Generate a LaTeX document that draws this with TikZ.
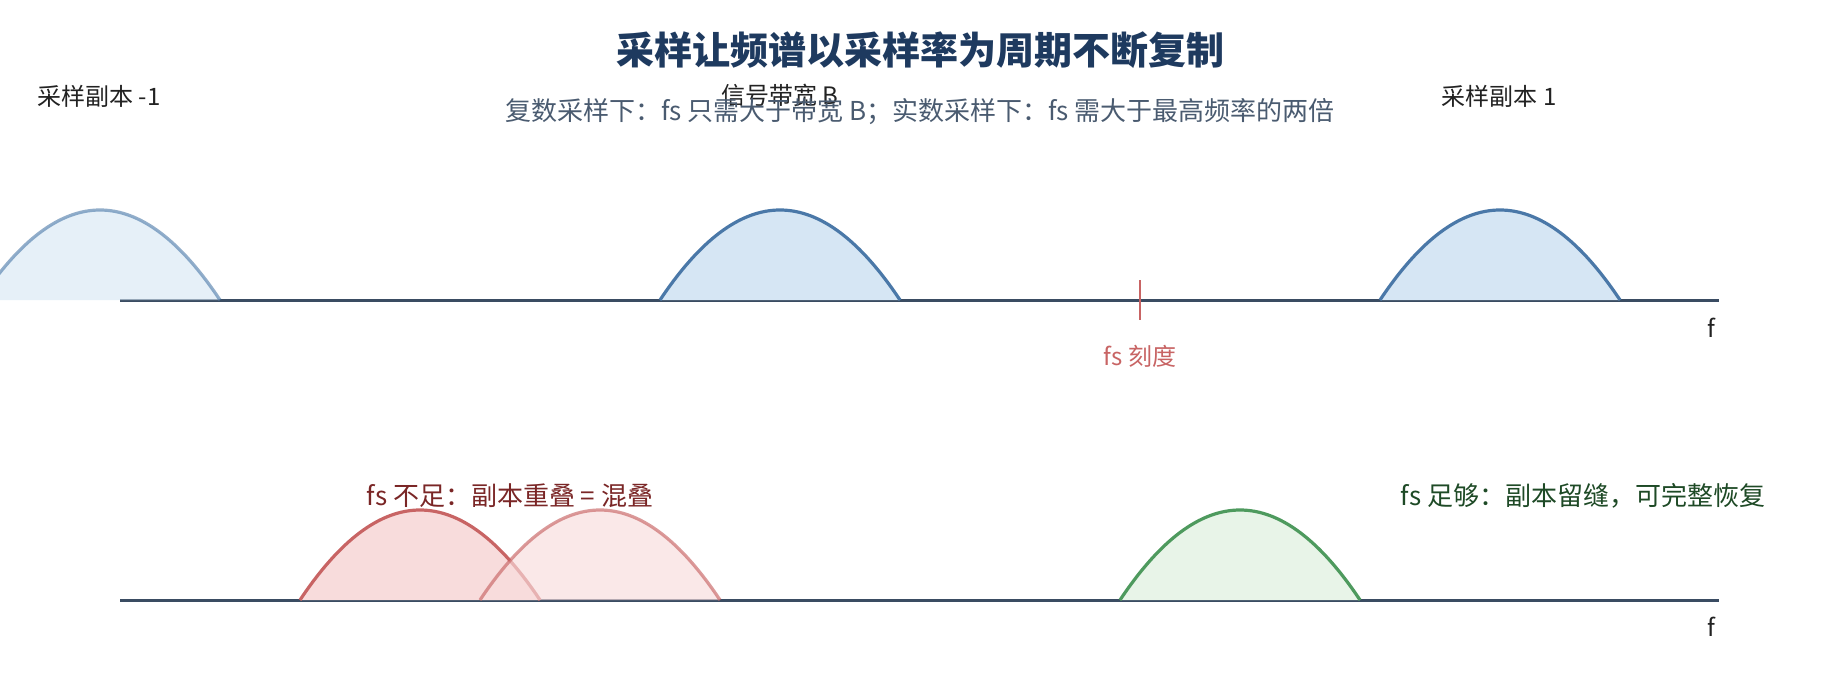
\documentclass[tikz,border=0pt]{standalone}
\usepackage{fontspec}
\setmainfont{Noto Sans CJK SC}
\definecolor{titlec}{HTML}{1E3A5F}
\definecolor{subc}{HTML}{4A5B70}
\definecolor{labelc}{HTML}{222222}
\definecolor{axisc}{HTML}{3A4C62}
\definecolor{bluec}{HTML}{4A78A8}
\definecolor{bluef}{HTML}{D6E6F4}
\definecolor{redc}{HTML}{C86464}
\definecolor{redf}{HTML}{F8DCDC}
\definecolor{darkred}{HTML}{7A2626}
\definecolor{greenc}{HTML}{4E9A5E}
\definecolor{greenf}{HTML}{E8F4E8}
\definecolor{darkgreen}{HTML}{1E4A26}
\begin{document}
\begin{tikzpicture}[
          x=0.5pt, y=-0.5pt,
          every node/.style={font=\fontsize{12}{14}\selectfont, text=labelc, inner sep=0pt},
          note/.style={font=\fontsize{13}{15}\selectfont},
          axis/.style={draw=axisc, line width=1.5pt},
          hump/.style={line width=1.6pt},
          blue/.style={hump, draw=bluec, fill=bluef},
          faded/.style={blue, opacity=0.6},
          red/.style={hump, draw=redc, fill=redf},
          redfaded/.style={red, opacity=0.65},
          green/.style={hump, draw=greenc, fill=greenf}
        ]
        \useasboundingbox[fill=white] (0,0) rectangle (1840,680);

        % spectrum with its copies
        \coordinate (top start) at (120,300);
        \coordinate (top end) at (1719,300);
        \draw[axis] (top start) -- (top end);
        \foreach \c/\sty in {100/faded, 780/blue, 1500/blue}
          \draw[\sty] (\c-120,300) .. controls (\c-40,180) and (\c+40,180) .. (\c+120,300);

        \coordinate (fs up) at (1140,280);
        \coordinate (fs down) at (1140,320);
        \draw[redc, line width=1.4pt] (fs up) -- (fs down);
        \node[text=redc] (fs label) at (1140,356) {fs 刻度};
        \node (top f) at (1711,328) {f};

        \node (copy m1) at (99,96) {采样副本 -1};
        \node (band) at (780,95) {信号带宽 B};
        \node (copy p1) at (1499,96) {采样副本 1};

        \node[font=\fontsize{19}{23}\selectfont\bfseries, text=titlec] (title) at (920,50) {采样让频谱以采样率为周期不断复制};
        \node[font=\fontsize{13}{16}\selectfont, text=subc] (subtitle) at (920,112) {复数采样下：fs 只需大于带宽 B；实数采样下：fs 需大于最高频率的两倍};

        % aliasing vs. enough room
        \coordinate (bottom start) at (120,600);
        \coordinate (bottom end) at (1719,600);
        \draw[axis] (bottom start) -- (bottom end);
        \foreach \c/\sty in {420/red, 600/redfaded, 1240/green}
          \draw[\sty] (\c-120,600) .. controls (\c-40,480) and (\c+40,480) .. (\c+120,600);
        \node (bottom f) at (1711,627) {f};

        \node[note, text=darkred] (alias) at (510,496) {fs 不足：副本重叠 = 混叠};
        \node[note, text=darkgreen] (enough) at (1583,496) {fs 足够：副本留缝，可完整恢复};
\end{tikzpicture}
\end{document}
